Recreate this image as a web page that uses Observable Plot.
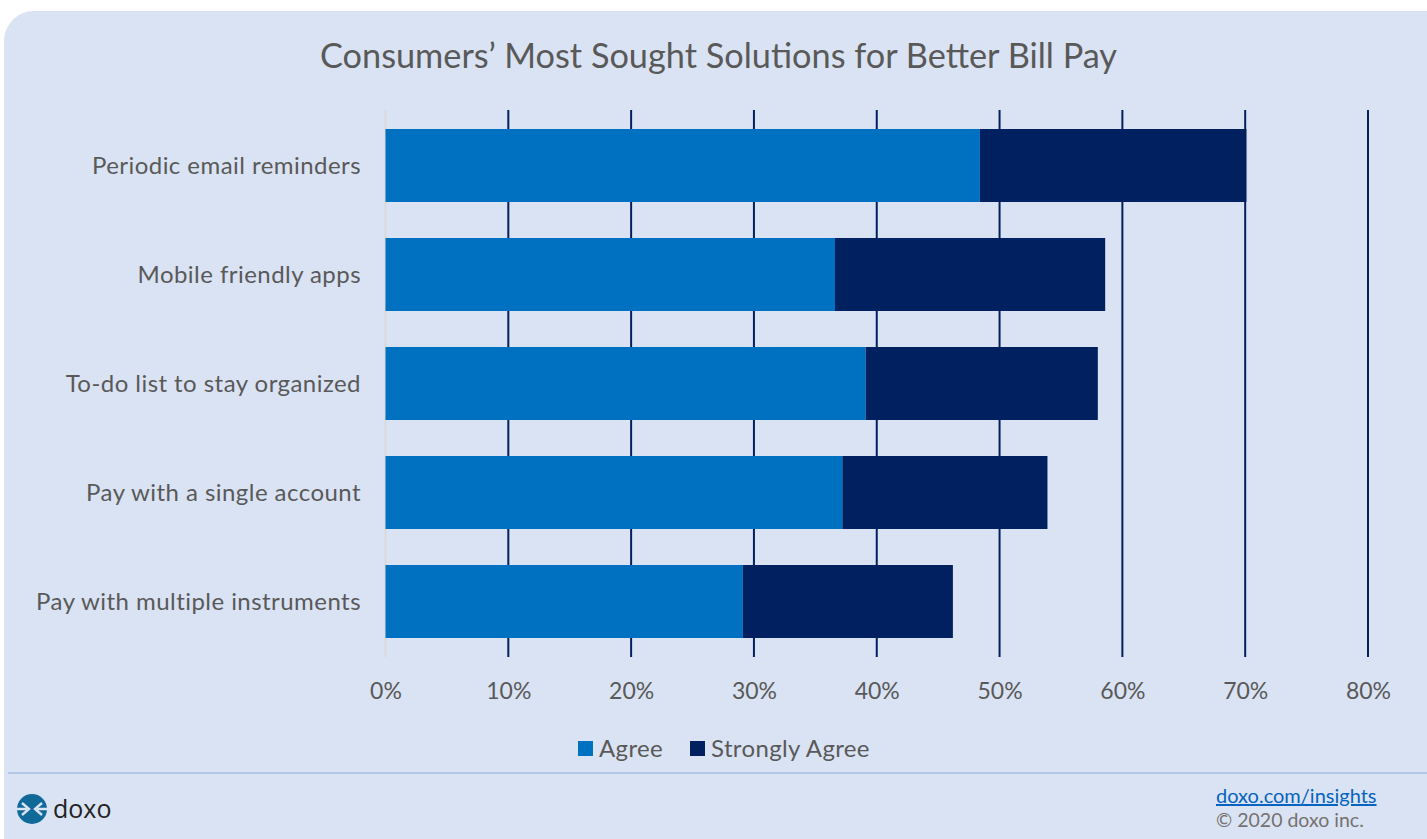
<!DOCTYPE html>
<html><head><meta charset="utf-8">
<script src="https://cdn.jsdelivr.net/npm/d3@7"></script>
<script src="https://cdn.jsdelivr.net/npm/@observablehq/plot@0.6"></script>
<style>
html,body{margin:0;padding:0;background:#fff;overflow:hidden}
#wrap{position:relative;width:1427px;height:839px;font-family:Lato,sans-serif;color:#595959}
#panel{position:absolute;left:4px;top:11px;width:1453px;height:858px;border-radius:30px;background:#dae3f3}
#chart{position:absolute;left:0;top:0}
#chart g[aria-label="y-axis tick label"]{letter-spacing:.45px}
#title{position:absolute;left:0;width:1437px;top:33px;text-align:center;font-size:34.3px;line-height:44px;white-space:nowrap}
#legend{position:absolute;top:734px;left:578px;display:flex;align-items:center;font-size:24px;letter-spacing:.35px;line-height:28px;white-space:nowrap}
#legend i{display:inline-block;width:15px;height:15px;margin-right:6px}
#legend span{display:inline-flex;align-items:center;margin-right:27px}
#rule{position:absolute;left:8px;right:0;top:772px;height:2px;background:#b4c7e7}
#link{position:absolute;left:1216px;top:783px;font-size:20px;line-height:24px;color:#0563c1;text-decoration:underline}
#copy{position:absolute;left:1216px;top:808px;font-size:19.5px;line-height:24px;color:#767171}
#logo{position:absolute;left:17px;top:793px}
#brand{position:absolute;left:53px;top:790px;font-family:"Open Sans",sans-serif;font-size:25px;line-height:36px;color:#222}
</style></head><body>
<div id="wrap">
<div id="panel"></div>
<div id="chart"></div>
<div id="title">Consumers’ Most Sought Solutions for Better Bill Pay</div>
<div id="legend"><span><i style="background:#0070c0"></i>Agree</span><span><i style="background:#002060"></i>Strongly Agree</span></div>
<div id="rule"></div>
<svg id="logo" width="30" height="32" viewBox="0 0 30 32">
<circle cx="15" cy="16" r="15" fill="#0f6a99"/>
<path d="M0 16H10M20 16H30" stroke="#dae3f3" stroke-width="2.4"/>
<path d="M5 10l7 6-7 6M25 10l-7 6 7 6" fill="none" stroke="#dae3f3" stroke-width="2.4"/>
</svg>
<div id="brand">doxo</div>
<div id="link">doxo.com/insights</div>
<div id="copy">© 2020 doxo inc.</div>
</div>
<script>
const categories = ["Periodic email reminders","Mobile friendly apps","To-do list to stay organized","Pay with a single account","Pay with multiple instruments"];
const agree = [48.4,36.6,39.1,37.2,29.1];
const stronglyAgree = [21.7,22.0,18.9,16.7,17.1];
const series = ["Agree","Strongly Agree"];
const seriesColors = ["#0070c0","#002060"];
const xTicks = [0,10,20,30,40,50,60,70,80];

const rows = categories.flatMap((c,i)=>[
  {category:c,series:series[0],value:agree[i]},
  {category:c,series:series[1],value:stronglyAgree[i]}
]);

const plot = Plot.plot({
  width:1427,height:839,
  marginLeft:385.5,marginRight:59,marginTop:110,marginBottom:182,
  style:{background:"transparent",fontFamily:"Lato,sans-serif",color:"#595959"},
  x:{domain:[0,80],label:null},
  y:{domain:categories,label:null,paddingInner:0.33,paddingOuter:0.165,align:0.5},
  color:{domain:series,range:seriesColors},
  marks:[
    Plot.ruleX(xTicks.filter(d=>d>0),{stroke:"#002060",strokeWidth:2,dx:-0.5}),
    Plot.ruleX([0],{stroke:"#d9d9d9",strokeWidth:2,dx:-0.5}),
    Plot.barX(rows,{y:"category",x:"value",fill:"series",order:series}),
    Plot.axisX({ticks:xTicks,tickFormat:d=>d+"%",tickSize:0,tickPadding:25,fontSize:23,label:null,fill:"#595959"}),
    Plot.axisY({tickSize:0,tickPadding:25,fontSize:24,label:null,fill:"#595959"})
  ]
});
document.getElementById("chart").appendChild(plot);
</script>
</body></html>
